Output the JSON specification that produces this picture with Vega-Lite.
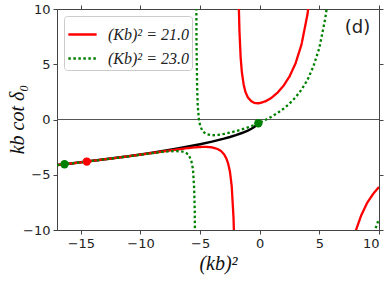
{
  "$schema": "https://vega.github.io/schema/vega-lite/v6.json",
  "width": 322,
  "height": 221,
  "autosize": {"type": "none"},
  "padding": {"left": 57, "top": 9, "right": 11, "bottom": 51},
  "config": {
    "view": {"stroke": "#444", "strokeWidth": 1},
    "axis": {
      "grid": false,
      "domainColor": "#444",
      "tickColor": "#444",
      "tickSize": 4,
      "labelFont": "DejaVu Sans",
      "labelFontSize": 13,
      "labelColor": "#222",
      "labelPadding": 3,
      "titleColor": "#111",
      "titleFont": "Liberation Serif",
      "titleFontStyle": "italic",
      "titleFontWeight": "normal"
    },
    "legend": {
      "orient": "top-left",
      "offset": 7,
      "padding": 3,
      "strokeColor": "#ccc",
      "fillColor": "white",
      "cornerRadius": 3,
      "symbolType": "stroke",
      "symbolSize": 800,
      "symbolStrokeWidth": 2.5,
      "labelFont": "Liberation Serif",
      "labelFontSize": 16,
      "labelFontStyle": "italic",
      "labelColor": "#222",
      "rowPadding": -7,
      "labelOffset": 10
    }
  },
  "datasets": {
    "curves": [
      {"s": "21.0", "b": "r1", "x": -17, "y": -4.123},
      {"s": "21.0", "b": "r1", "x": -16, "y": -4.0},
      {"s": "21.0", "b": "r1", "x": -15, "y": -3.873},
      {"s": "21.0", "b": "r1", "x": -14.5, "y": -3.808},
      {"s": "21.0", "b": "r1", "x": -14, "y": -3.742},
      {"s": "21.0", "b": "r1", "x": -13, "y": -3.606},
      {"s": "21.0", "b": "r1", "x": -12, "y": -3.469},
      {"s": "21.0", "b": "r1", "x": -11, "y": -3.317},
      {"s": "21.0", "b": "r1", "x": -10, "y": -3.178},
      {"s": "21.0", "b": "r1", "x": -9, "y": -3.027},
      {"s": "21.0", "b": "r1", "x": -8, "y": -2.874},
      {"s": "21.0", "b": "r1", "x": -7, "y": -2.724},
      {"s": "21.0", "b": "r1", "x": -6, "y": -2.585},
      {"s": "21.0", "b": "r1", "x": -5.5, "y": -2.529},
      {"s": "21.0", "b": "r1", "x": -5, "y": -2.488},
      {"s": "21.0", "b": "r1", "x": -4.5, "y": -2.477},
      {"s": "21.0", "b": "r1", "x": -4, "y": -2.518},
      {"s": "21.0", "b": "r1", "x": -3.5, "y": -2.687},
      {"s": "21.0", "b": "r1", "x": -3.25, "y": -2.85},
      {"s": "21.0", "b": "r1", "x": -3, "y": -3.136},
      {"s": "21.0", "b": "r1", "x": -2.8, "y": -3.531},
      {"s": "21.0", "b": "r1", "x": -2.65, "y": -3.979},
      {"s": "21.0", "b": "r1", "x": -2.5, "y": -4.715},
      {"s": "21.0", "b": "r1", "x": -2.35, "y": -6.037},
      {"s": "21.0", "b": "r1", "x": -2.2, "y": -8.85},
      {"s": "21.0", "b": "r1", "x": -2.15, "y": -10.71},
      {"s": "21.0", "b": "r1", "x": -2.1, "y": -14.3},
      {"s": "21.0", "b": "r2", "x": -1.8, "y": 13.7},
      {"s": "21.0", "b": "r2", "x": -1.75, "y": 10.08},
      {"s": "21.0", "b": "r2", "x": -1.7, "y": 8.0},
      {"s": "21.0", "b": "r2", "x": -1.6, "y": 5.61},
      {"s": "21.0", "b": "r2", "x": -1.5, "y": 4.29},
      {"s": "21.0", "b": "r2", "x": -1.35, "y": 3.17},
      {"s": "21.0", "b": "r2", "x": -1.2, "y": 2.49},
      {"s": "21.0", "b": "r2", "x": -1.0, "y": 2.013},
      {"s": "21.0", "b": "r2", "x": -0.7, "y": 1.641},
      {"s": "21.0", "b": "r2", "x": -0.5, "y": 1.528},
      {"s": "21.0", "b": "r2", "x": -0.3, "y": 1.476},
      {"s": "21.0", "b": "r2", "x": -0.1, "y": 1.469},
      {"s": "21.0", "b": "r2", "x": 0, "y": 1.477},
      {"s": "21.0", "b": "r2", "x": 0.5, "y": 1.658},
      {"s": "21.0", "b": "r2", "x": 1, "y": 1.978},
      {"s": "21.0", "b": "r2", "x": 1.5, "y": 2.437},
      {"s": "21.0", "b": "r2", "x": 2, "y": 3.06},
      {"s": "21.0", "b": "r2", "x": 2.5, "y": 3.902},
      {"s": "21.0", "b": "r2", "x": 3, "y": 5.071},
      {"s": "21.0", "b": "r2", "x": 3.5, "y": 6.778},
      {"s": "21.0", "b": "r2", "x": 4, "y": 9.498},
      {"s": "21.0", "b": "r2", "x": 4.2, "y": 11.08},
      {"s": "21.0", "b": "r2", "x": 4.5, "y": 14.57},
      {"s": "21.0", "b": "r3", "x": 7.5, "y": -12.59},
      {"s": "21.0", "b": "r3", "x": 7.8, "y": -11.07},
      {"s": "21.0", "b": "r3", "x": 8, "y": -10.22},
      {"s": "21.0", "b": "r3", "x": 8.5, "y": -8.7},
      {"s": "21.0", "b": "r3", "x": 9, "y": -7.556},
      {"s": "21.0", "b": "r3", "x": 9.5, "y": -6.75},
      {"s": "21.0", "b": "r3", "x": 10, "y": -6.098},
      {"s": "23.0", "b": "g1", "x": -17, "y": -4.123},
      {"s": "23.0", "b": "g1", "x": -16.37, "y": -4.046},
      {"s": "23.0", "b": "g1", "x": -16, "y": -4.0},
      {"s": "23.0", "b": "g1", "x": -15, "y": -3.873},
      {"s": "23.0", "b": "g1", "x": -14, "y": -3.742},
      {"s": "23.0", "b": "g1", "x": -13, "y": -3.606},
      {"s": "23.0", "b": "g1", "x": -12, "y": -3.474},
      {"s": "23.0", "b": "g1", "x": -11, "y": -3.334},
      {"s": "23.0", "b": "g1", "x": -10, "y": -3.192},
      {"s": "23.0", "b": "g1", "x": -9, "y": -3.052},
      {"s": "23.0", "b": "g1", "x": -8, "y": -2.924},
      {"s": "23.0", "b": "g1", "x": -7.5, "y": -2.877},
      {"s": "23.0", "b": "g1", "x": -7, "y": -2.855},
      {"s": "23.0", "b": "g1", "x": -6.5, "y": -2.897},
      {"s": "23.0", "b": "g1", "x": -6.25, "y": -2.978},
      {"s": "23.0", "b": "g1", "x": -6, "y": -3.149},
      {"s": "23.0", "b": "g1", "x": -5.75, "y": -3.671},
      {"s": "23.0", "b": "g1", "x": -5.6, "y": -4.488},
      {"s": "23.0", "b": "g1", "x": -5.5, "y": -6.232},
      {"s": "23.0", "b": "g1", "x": -5.45, "y": -8.29},
      {"s": "23.0", "b": "g1", "x": -5.4, "y": -15.6},
      {"s": "23.0", "b": "g2", "x": -5.32, "y": 11.45},
      {"s": "23.0", "b": "g2", "x": -5.3, "y": 6.84},
      {"s": "23.0", "b": "g2", "x": -5.25, "y": 3.02},
      {"s": "23.0", "b": "g2", "x": -5.2, "y": 1.268},
      {"s": "23.0", "b": "g2", "x": -5.1, "y": 0.0},
      {"s": "23.0", "b": "g2", "x": -5.0, "y": -0.54},
      {"s": "23.0", "b": "g2", "x": -4.8, "y": -1.057},
      {"s": "23.0", "b": "g2", "x": -4.5, "y": -1.319},
      {"s": "23.0", "b": "g2", "x": -4.0, "y": -1.426},
      {"s": "23.0", "b": "g2", "x": -3.5, "y": -1.394},
      {"s": "23.0", "b": "g2", "x": -3.0, "y": -1.309},
      {"s": "23.0", "b": "g2", "x": -2.5, "y": -1.194},
      {"s": "23.0", "b": "g2", "x": -2.0, "y": -1.055},
      {"s": "23.0", "b": "g2", "x": -1.5, "y": -0.895},
      {"s": "23.0", "b": "g2", "x": -1.0, "y": -0.715},
      {"s": "23.0", "b": "g2", "x": -0.5, "y": -0.513},
      {"s": "23.0", "b": "g2", "x": 0, "y": -0.286},
      {"s": "23.0", "b": "g2", "x": 0.5, "y": -0.031},
      {"s": "23.0", "b": "g2", "x": 1, "y": 0.259},
      {"s": "23.0", "b": "g2", "x": 1.5, "y": 0.592},
      {"s": "23.0", "b": "g2", "x": 2, "y": 0.981},
      {"s": "23.0", "b": "g2", "x": 2.5, "y": 1.441},
      {"s": "23.0", "b": "g2", "x": 3, "y": 2.0},
      {"s": "23.0", "b": "g2", "x": 3.5, "y": 2.695},
      {"s": "23.0", "b": "g2", "x": 4, "y": 3.581},
      {"s": "23.0", "b": "g2", "x": 4.5, "y": 4.803},
      {"s": "23.0", "b": "g2", "x": 5, "y": 6.491},
      {"s": "23.0", "b": "g2", "x": 5.5, "y": 9.169},
      {"s": "23.0", "b": "g2", "x": 5.7, "y": 10.72},
      {"s": "23.0", "b": "g2", "x": 6, "y": 14.0},
      {"s": "23.0", "b": "g3", "x": 9.6, "y": -10.27},
      {"s": "23.0", "b": "g3", "x": 9.7, "y": -9.909},
      {"s": "23.0", "b": "g3", "x": 9.8, "y": -9.577},
      {"s": "23.0", "b": "g3", "x": 10, "y": -8.993}
    ],
    "black": [
      {"x": -17, "y": -4.123},
      {"x": -16, "y": -4.0},
      {"x": -15, "y": -3.873},
      {"x": -14, "y": -3.742},
      {"x": -13, "y": -3.606},
      {"x": -12, "y": -3.464},
      {"x": -11, "y": -3.317},
      {"x": -10, "y": -3.162},
      {"x": -9, "y": -3.0},
      {"x": -8, "y": -2.828},
      {"x": -7, "y": -2.646},
      {"x": -6, "y": -2.449},
      {"x": -5, "y": -2.236},
      {"x": -4, "y": -2.0},
      {"x": -3, "y": -1.732},
      {"x": -2.5, "y": -1.581},
      {"x": -2, "y": -1.414},
      {"x": -1.5, "y": -1.225},
      {"x": -1, "y": -1.0},
      {"x": -0.7, "y": -0.837},
      {"x": -0.5, "y": -0.707},
      {"x": -0.3, "y": -0.548},
      {"x": -0.1, "y": -0.316}
    ],
    "dots": [
      {"s": "23.0", "x": -16.37, "y": -4.046},
      {"s": "21.0", "x": -14.5, "y": -3.808},
      {"s": "23.0", "x": -0.117, "y": -0.342}
    ]
  },
  "layer": [
    {
      "data": {"values": [{"v": 0}]},
      "mark": {"type": "rule", "color": "#555", "strokeWidth": 1},
      "encoding": {
        "x": {"field": "v", "type": "quantitative", "scale": {"domain": [-17, 10], "nice": false}, "axis": {"values": [-15, -10, -5, 0, 5, 10], "title": "(kb)²", "titleFontSize": 20, "titlePadding": 3}},
        "y": {"field": "v", "type": "quantitative", "scale": {"domain": [-10, 10], "nice": false}, "axis": {"values": [-10, -5, 0, 5, 10], "title": "kb cot δ₀", "titleFontSize": 20, "titleX": -40, "titleY": 110, "titleAngle": 270, "titleAlign": "center", "titleBaseline": "middle"}}
      }
    },
    {
      "data": {"values": [{"v": 0}]},
      "mark": {"type": "rule", "color": "#555", "strokeWidth": 1},
      "encoding": {
        "y": {"field": "v", "type": "quantitative", "axis": null}
      }
    },
    {
      "data": {"values": [{"v": 0}]},
      "mark": {"type": "point", "opacity": 0},
      "encoding": {
        "x": {"field": "v", "type": "quantitative", "axis": {"orient": "top", "values": [-15, -10, -5, 0, 5, 10], "labels": false, "title": null, "domain": false}},
        "y": {"field": "v", "type": "quantitative", "axis": {"orient": "right", "values": [-10, -5, 0, 5, 10], "labels": false, "title": null, "domain": false}}
      }
    },
    {
      "data": {"name": "black"},
      "mark": {"type": "line", "color": "black", "strokeWidth": 2.5, "clip": true},
      "encoding": {
        "x": {"field": "x", "type": "quantitative", "axis": null},
        "y": {"field": "y", "type": "quantitative", "axis": null}
      }
    },
    {
      "data": {"name": "curves"},
      "mark": {"type": "line", "clip": true, "strokeWidth": 2.3},
      "encoding": {
        "x": {"field": "x", "type": "quantitative", "axis": null},
        "y": {"field": "y", "type": "quantitative", "axis": null},
        "detail": {"field": "b"},
        "order": {"field": "x", "type": "quantitative"},
        "color": {"field": "s", "type": "nominal", "scale": {"domain": ["21.0", "23.0"], "range": ["#ff0000", "#008000"]}, "legend": {"title": null, "labelExpr": "'(Kb)² = ' + datum.label"}},
        "strokeDash": {"field": "s", "type": "nominal", "scale": {"domain": ["21.0", "23.0"], "range": [[1, 0], [2.5, 2.5]]}, "legend": {"title": null, "labelExpr": "'(Kb)² = ' + datum.label"}}
      }
    },
    {
      "data": {"name": "dots"},
      "transform": [{"filter": "datum.s == '21.0'"}],
      "mark": {"type": "circle", "color": "#ff0000", "opacity": 1, "size": 70},
      "encoding": {
        "x": {"field": "x", "type": "quantitative", "axis": null},
        "y": {"field": "y", "type": "quantitative", "axis": null}
      }
    },
    {
      "data": {"name": "dots"},
      "transform": [{"filter": "datum.s == '23.0'"}],
      "mark": {"type": "circle", "color": "#008000", "opacity": 1, "size": 70},
      "encoding": {
        "x": {"field": "x", "type": "quantitative", "axis": null},
        "y": {"field": "y", "type": "quantitative", "axis": null}
      }
    },
    {
      "data": {"values": [{"x": 8.2, "y": 8.3, "t": "(d)"}]},
      "mark": {"type": "text", "font": "DejaVu Sans", "fontSize": 18, "color": "#222", "baseline": "middle", "align": "center"},
      "encoding": {
        "x": {"field": "x", "type": "quantitative", "axis": null},
        "y": {"field": "y", "type": "quantitative", "axis": null},
        "text": {"field": "t"}
      }
    }
  ],
  "resolve": {"axis": {"x": "independent", "y": "independent"}}
}
